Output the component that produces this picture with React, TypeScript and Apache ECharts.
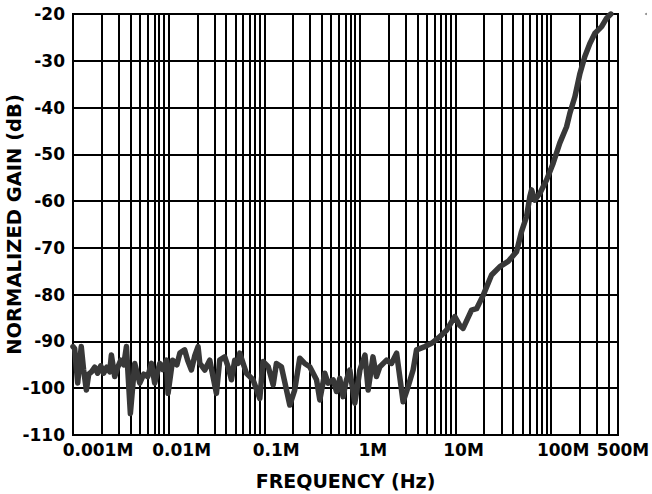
import React, { useEffect, useRef } from "react";
import * as echarts from "echarts";

// Measured response: frequency (MHz) and normalized gain (dB)
const frequencyMHz = [
  0.001, 0.00104, 0.00112, 0.00122, 0.00129, 0.00138, 0.00146, 0.00156, 0.00169, 0.00181,
  0.00195, 0.00209, 0.00225, 0.00242, 0.00252, 0.00273, 0.00294, 0.00316, 0.00339, 0.00362,
  0.00398, 0.00442, 0.00499, 0.00549, 0.00605, 0.00661, 0.00715, 0.00807, 0.00868, 0.00948,
  0.00986, 0.011, 0.0122, 0.0131, 0.0147, 0.0158, 0.0173, 0.0188, 0.0203, 0.0212,
  0.0239, 0.0269, 0.0316, 0.0342, 0.0386, 0.0418, 0.0454, 0.0491, 0.0532, 0.0554,
  0.0651, 0.0763, 0.0898, 0.0971, 0.11, 0.124, 0.134, 0.151, 0.185, 0.208,
  0.235, 0.265, 0.299, 0.352, 0.381, 0.429, 0.465, 0.525, 0.569, 0.616,
  0.667, 0.724, 0.784, 0.885, 1.0, 1.13, 1.22, 1.37, 1.49, 1.62,
  1.9, 2.14, 2.42, 2.83, 3.19, 3.6, 3.91, 4.78, 5.61, 6.85,
  8.05, 9.83, 11.1, 12.0, 14.7, 16.6, 19.5, 23.8, 29.1, 35.5,
  43.5, 49.0, 55.3, 59.9, 62.4, 67.5, 76.2, 89.5, 105, 123,
  145, 157, 177, 200, 225, 254, 287, 337, 380, 421,
];
const gainDb = [
  -91.1, -91.5, -98.9, -91.1, -96.0, -100.4, -97.0, -96.5, -95.5, -96.8,
  -95.2, -96.8, -95.5, -96.5, -92.9, -97.5, -95.5, -94.0, -95.0, -91.1,
  -105.4, -94.7, -98.9, -97.0, -97.5, -94.7, -98.9, -94.7, -96.0, -94.0,
  -101.1, -94.0, -95.0, -92.5, -91.8, -94.0, -96.1, -93.0, -91.1, -94.7,
  -96.1, -94.0, -101.1, -94.0, -93.3, -95.4, -98.2, -94.0, -94.7, -92.5,
  -96.8, -98.2, -102.2, -94.3, -95.4, -99.3, -94.7, -95.4, -103.6, -100.4,
  -93.6, -94.7, -95.4, -98.2, -102.5, -96.8, -98.9, -98.2, -100.7, -97.9,
  -101.8, -98.2, -96.1, -103.2, -96.1, -92.9, -100.4, -93.3, -97.5, -95.4,
  -94.0, -94.7, -92.5, -102.9, -99.7, -96.1, -91.8, -91.1, -90.4, -89.0,
  -87.6, -84.7, -86.6, -87.2, -83.3, -83.0, -80.1, -75.8, -74.0, -72.9,
  -70.8, -66.5, -63.3, -59.0, -57.6, -59.8, -58.3, -55.5, -51.9, -47.6,
  -44.1, -41.2, -37.7, -32.7, -29.1, -26.3, -24.1, -22.7, -20.9, -20.0,
];

const xTickFreqMHz = [0.001, 0.01, 0.1, 1, 10, 100, 500];
const xTickLabels = ["0.001M", "0.01M", "0.1M", "1M", "10M", "100M", "500M"];
const xLabelShift = [25, 13, 12, 13, 8, 12, 5];
const minorMultipliers = [2, 3, 4, 5, 6, 7, 8, 9];
const yMin = -110;
const yMax = -20;
const yStep = 10;

const FONT = "DejaVu Sans";

export default function App() {
  const ref = useRef<HTMLDivElement>(null);

  useEffect(() => {
    if (!ref.current) return;
    const chart = echarts.init(ref.current, null, { renderer: "svg" });

    const tickLogs = xTickFreqMHz.map((f) => Math.log10(f));
    const xMin = tickLogs[0];
    const xMax = tickLogs[tickLogs.length - 1];

    const minorLines: { xAxis: number }[] = [];
    for (let d = Math.floor(xMin); d < Math.ceil(xMax); d++) {
      for (const m of minorMultipliers) {
        const v = d + Math.log10(m);
        if (v < xMax - 1e-6) minorLines.push({ xAxis: v });
      }
    }

    const rich: Record<string, any> = {};
    xTickLabels.forEach((_, i) => {
      rich["r" + i] = {
        fontFamily: FONT,
        fontWeight: "bold",
        fontSize: 17,
        color: "#000",
        padding: [0, 0, 0, 2 * xLabelShift[i]],
      };
    });

    const data = frequencyMHz.map((f, i) => [Math.log10(f), gainDb[i]]);

    chart.setOption({
      animation: false,
      grid: {
        left: 73,
        right: 34,
        top: 14,
        bottom: 59,
        show: true,
        borderColor: "#000",
        borderWidth: 2,
        backgroundColor: "transparent",
        containLabel: false,
        outerBoundsMode: "none",
      },
      xAxis: {
        type: "value",
        min: xMin,
        max: xMax,
        interval: 1,
        name: "FREQUENCY (Hz)",
        nameLocation: "middle",
        nameGap: 36,
        nameMoveOverlap: false,
        nameTextStyle: {
          fontFamily: FONT,
          fontWeight: "bold",
          fontSize: 19,
          color: "#000",
        },
        axisLine: { show: true, onZero: false, lineStyle: { color: "#000", width: 2 } },
        axisTick: { show: false },
        splitLine: { show: true, lineStyle: { color: "#000", width: 2 } },
        axisLabel: {
          margin: 6,
          showMinLabel: true,
          showMaxLabel: true,
          formatter: (v: number) => {
            let idx = -1;
            tickLogs.forEach((t, i) => {
              if (Math.abs(t - v) < 0.01) idx = i;
            });
            if (idx < 0) return "";
            return "{r" + idx + "|" + xTickLabels[idx] + "}";
          },
          rich,
          fontFamily: FONT,
          fontWeight: "bold",
          fontSize: 17,
          color: "#000",
        },
      },
      yAxis: {
        type: "value",
        min: yMin,
        max: yMax,
        interval: yStep,
        name: "NORMALIZED GAIN (dB)",
        nameLocation: "middle",
        nameGap: 49,
        nameMoveOverlap: false,
        nameTextStyle: {
          fontFamily: FONT,
          fontWeight: "bold",
          fontSize: 19.5,
          color: "#000",
        },
        axisLine: { show: true, onZero: false, lineStyle: { color: "#000", width: 2 } },
        axisTick: { show: false },
        splitLine: { show: true, lineStyle: { color: "#000", width: 2 } },
        axisLabel: {
          margin: 8,
          fontFamily: FONT,
          fontWeight: "bold",
          fontSize: 17,
          color: "#000",
        },
      },
      series: [
        {
          type: "line",
          data,
          showSymbol: false,
          symbol: "none",
          z: 3,
          lineStyle: { color: "#383838", width: 5.5, join: "round", cap: "round" },
          silent: true,
          markLine: {
            silent: true,
            z: 1,
            symbol: ["none", "none"],
            label: { show: false },
            lineStyle: { color: "#000", width: 2, type: "solid" },
            emphasis: { disabled: true },
            data: minorLines,
          },
        },
      ],
      graphic: [
        {
          type: "circle",
          shape: { cx: 646, cy: 14, r: 1 },
          style: { fill: "#888" },
          silent: true,
        },
      ],
    });

    return () => {
      chart.dispose();
    };
  }, []);

  return (
    <div
      ref={ref}
      style={{ position: "absolute", left: 0, top: 0, width: 652, height: 494 }}
    />
  );
}
